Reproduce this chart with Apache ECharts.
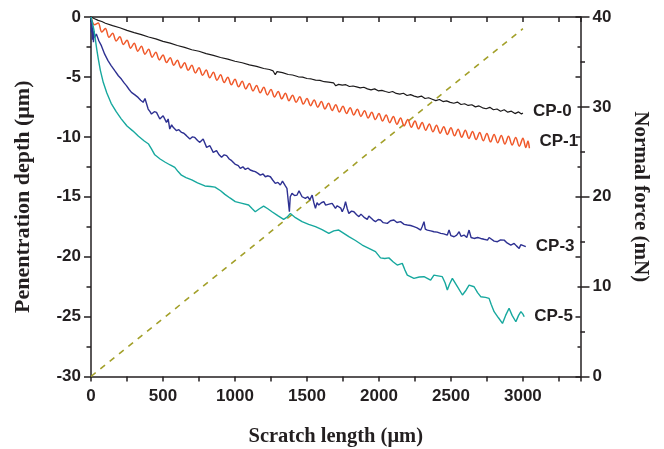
<!DOCTYPE html>
<html>
<head>
<meta charset="utf-8">
<script src="https://cdn.jsdelivr.net/npm/echarts@6/dist/echarts.min.js"></script>
<style>
html,body{margin:0;padding:0;background:#fff;}
#chart{width:664px;height:449px;}
</style>
</head>
<body>
<div id="chart"></div>
<script>
// ---- data (x: scratch length in µm, y: penetration depth in µm) ----
var seriesNames = ['CP-0', 'CP-1', 'CP-3', 'CP-5'];
var xTickLabels = [0, 500, 1000, 1500, 2000, 2500, 3000];

var cp0 = [
[0,0],[25,-0.15],[50,-0.28],[75,-0.38],[100,-0.52],[150,-0.72],[200,-0.9],[250,-1.12],[300,-1.3],[350,-1.47],
[400,-1.67],[450,-1.82],[500,-2.03],[550,-2.18],[600,-2.38],[650,-2.53],[700,-2.73],[750,-2.86],[800,-3.06],[850,-3.2],
[900,-3.38],[950,-3.51],[1000,-3.69],[1050,-3.82],[1100,-4.0],[1150,-4.12],[1200,-4.3],[1240,-4.38],[1265,-4.5],[1280,-4.82],
[1292,-4.56],[1330,-4.64],[1370,-4.8],[1400,-4.84],[1440,-4.99],[1470,-5.02],[1500,-5.13],[1530,-5.17],[1560,-5.27],[1590,-5.29],
[1620,-5.4],[1650,-5.43],[1685,-5.5],[1700,-5.74],[1720,-5.62],[1745,-5.69],[1770,-5.65],[1795,-5.8],[1820,-5.76],[1845,-5.83],
[1870,-5.92],[1895,-5.86],[1920,-6.0],[1945,-6.08],[1970,-6.0],[1995,-6.16],[2020,-6.12],[2045,-6.22],[2070,-6.3],[2095,-6.22],
[2120,-6.38],[2145,-6.44],[2170,-6.36],[2195,-6.55],[2220,-6.48],[2245,-6.6],[2270,-6.68],[2295,-6.6],[2320,-6.8],[2345,-6.74],
[2370,-6.86],[2395,-6.98],[2420,-6.88],[2445,-7.06],[2470,-7.0],[2495,-7.12],[2520,-7.2],[2545,-7.1],[2570,-7.3],[2595,-7.24],
[2620,-7.38],[2645,-7.32],[2670,-7.5],[2695,-7.42],[2720,-7.58],[2745,-7.66],[2770,-7.54],[2795,-7.74],[2820,-7.68],[2845,-7.86],
[2870,-7.74],[2895,-7.94],[2920,-7.86],[2945,-8.06],[2970,-7.92],[2990,-8.1],[3000,-8.02]
];

var cp1 = [
[0,0],[25,-0.65],[50,-0.5],[75,-1.25],[100,-0.95],[125,-1.7],[150,-1.35],[175,-2.0],[200,-1.65],[225,-2.3],
[250,-1.95],[275,-2.6],[300,-2.2],[325,-2.85],[350,-2.45],[375,-3.1],[400,-2.7],[425,-3.35],[450,-2.95],[475,-3.58],
[500,-3.17],[525,-3.8],[550,-3.4],[575,-4.03],[600,-3.6],[625,-4.25],[650,-3.82],[675,-4.45],[700,-4.03],[725,-4.67],
[750,-4.23],[775,-4.87],[800,-4.43],[825,-5.07],[850,-4.62],[875,-5.27],[900,-4.82],[925,-5.47],[950,-5.02],[975,-5.66],
[1000,-5.2],[1025,-5.83],[1050,-5.37],[1075,-6.0],[1100,-5.54],[1125,-6.17],[1150,-5.71],[1175,-6.33],[1200,-5.87],[1225,-6.5],
[1250,-6.05],[1275,-6.68],[1300,-6.22],[1325,-6.83],[1350,-6.37],[1375,-6.98],[1400,-6.52],[1425,-7.12],[1450,-6.66],[1475,-7.27],
[1500,-6.8],[1525,-7.4],[1550,-6.93],[1575,-7.53],[1600,-7.06],[1625,-7.67],[1650,-7.2],[1675,-7.8],[1700,-7.32],[1725,-7.93],
[1750,-7.45],[1775,-8.05],[1800,-7.57],[1825,-8.18],[1850,-7.7],[1875,-8.3],[1900,-7.82],[1925,-8.43],[1950,-7.95],[1975,-8.56],
[2000,-8.06],[2025,-8.68],[2050,-8.18],[2075,-8.82],[2100,-8.3],[2125,-8.95],[2150,-8.43],[2175,-9.08],[2200,-8.55],[2225,-9.2],
[2250,-8.68],[2275,-9.33],[2300,-8.8],[2325,-9.45],[2350,-8.92],[2375,-9.58],[2400,-9.04],[2425,-9.7],[2450,-9.15],[2475,-9.8],
[2500,-9.25],[2525,-9.92],[2550,-9.36],[2575,-10.03],[2600,-9.45],[2625,-10.13],[2650,-9.55],[2675,-10.23],[2700,-9.64],[2725,-10.33],
[2750,-9.72],[2775,-10.42],[2800,-9.8],[2825,-10.5],[2850,-9.88],[2875,-10.6],[2900,-9.95],[2925,-10.68],[2950,-10.05],[2975,-10.78],
[3000,-10.12],[3020,-10.9],[3035,-10.35],[3045,-10.95]
];

var cp3 = [
[0,0],[4,-1.3],[7,-0.3],[10,-1.9],[13,-0.9],[17,-2.1],[21,-1.2],[25,-1.7],[37,-1.42],[55,-2.0],
[72,-2.39],[95,-3.1],[118,-3.64],[140,-4.05],[165,-4.48],[190,-4.9],[211,-5.18],[230,-5.5],[246,-5.73],[265,-6.05],
[281,-6.29],[305,-6.5],[327,-6.71],[345,-6.95],[362,-7.12],[375,-6.8],[385,-6.85],[397,-7.68],[410,-7.9],[420,-8.1],
[440,-7.9],[455,-7.96],[478,-8.51],[501,-8.24],[524,-8.79],[536,-8.51],[547,-9.35],[560,-9.0],[571,-9.21],[594,-9.49],
[610,-9.4],[629,-9.63],[645,-9.7],[663,-9.9],[687,-10.18],[705,-10.0],[721,-10.05],[740,-10.3],[756,-10.46],[779,-10.18],
[803,-10.88],[826,-10.74],[849,-11.3],[872,-11.16],[890,-11.5],[907,-11.71],[925,-11.5],[942,-11.57],[960,-11.85],[977,-11.99],
[1000,-12.27],[1023,-12.4],[1037,-12.63],[1055,-12.5],[1072,-12.72],[1090,-12.6],[1106,-12.77],[1125,-12.85],[1141,-12.91],[1160,-13.05],
[1176,-13.19],[1195,-13.1],[1211,-13.33],[1230,-13.25],[1246,-13.33],[1262,-13.6],[1280,-13.88],[1298,-13.8],[1315,-14.02],[1330,-13.7],
[1338,-13.61],[1350,-14.1],[1361,-14.3],[1373,-14.44],[1378,-16.25],[1384,-15.0],[1396,-14.72],[1414,-14.9],[1431,-14.86],[1445,-14.5],
[1454,-14.44],[1466,-15.0],[1489,-15.14],[1505,-15.0],[1520,-15.25],[1536,-14.86],[1548,-15.5],[1559,-15.97],[1570,-15.5],[1582,-15.69],
[1600,-15.5],[1617,-15.41],[1630,-15.7],[1640,-15.83],[1660,-15.6],[1675,-15.55],[1698,-15.97],[1710,-15.75],[1721,-15.69],[1735,-15.95],
[1745,-16.25],[1758,-15.9],[1768,-15.41],[1780,-16.0],[1791,-16.39],[1810,-16.2],[1826,-16.25],[1845,-16.5],[1861,-16.66],[1875,-16.45],
[1884,-16.53],[1900,-16.75],[1919,-16.89],[1930,-16.6],[1942,-16.66],[1960,-16.95],[1976,-17.08],[1995,-16.9],[2011,-16.94],[2030,-17.16],
[2058,-17.22],[2080,-17.0],[2104,-16.94],[2125,-17.15],[2150,-17.08],[2175,-17.3],[2197,-17.36],[2220,-17.4],[2243,-17.5],[2265,-17.6],
[2290,-17.78],[2300,-17.5],[2313,-17.08],[2322,-17.7],[2336,-17.78],[2360,-17.85],[2382,-17.92],[2405,-17.95],[2429,-18.06],[2450,-18.1],
[2475,-18.2],[2487,-17.78],[2500,-18.25],[2522,-18.34],[2540,-18.2],[2557,-17.92],[2570,-18.3],[2591,-18.2],[2610,-18.4],[2626,-17.78],
[2640,-18.4],[2661,-18.48],[2685,-18.4],[2707,-18.48],[2730,-18.55],[2754,-18.62],[2765,-18.4],[2777,-18.34],[2800,-18.7],[2823,-18.75],
[2845,-18.6],[2870,-18.62],[2890,-18.85],[2916,-19.03],[2939,-18.9],[2955,-19.1],[2974,-19.31],[2985,-19.0],[2997,-19.03],[3020,-19.17]
];

var cp5 = [
[0,0],[10,-0.5],[20,-1.05],[30,-1.85],[40,-2.7],[50,-3.45],[65,-4.45],[85,-5.45],[110,-6.35],[140,-7.2],
[175,-7.9],[210,-8.5],[250,-9.1],[290,-9.5],[330,-9.95],[370,-10.35],[400,-10.6],[420,-11.0],[443,-11.5],[480,-11.85],
[513,-12.1],[550,-12.35],[582,-12.55],[605,-12.9],[628,-13.2],[660,-13.4],[700,-13.6],[740,-13.85],[791,-14.1],[830,-14.15],
[861,-14.2],[900,-14.5],[930,-14.8],[965,-15.1],[1002,-15.41],[1050,-15.55],[1095,-15.69],[1120,-16.0],[1141,-16.25],[1170,-16.0],
[1199,-15.78],[1228,-16.0],[1257,-16.25],[1300,-16.6],[1338,-16.89],[1362,-16.7],[1385,-16.39],[1420,-16.75],[1466,-17.08],[1512,-17.3],
[1559,-17.5],[1605,-17.75],[1652,-18.06],[1686,-17.85],[1721,-17.78],[1756,-18.05],[1791,-18.33],[1837,-18.65],[1884,-19.03],[1930,-19.3],
[1976,-19.58],[2011,-20.1],[2040,-20.15],[2069,-20.1],[2100,-20.45],[2127,-20.7],[2162,-20.56],[2180,-21.1],[2197,-21.54],[2243,-21.81],
[2280,-21.7],[2313,-21.67],[2359,-21.95],[2382,-21.54],[2410,-21.6],[2440,-21.67],[2460,-22.2],[2475,-22.78],[2490,-22.3],[2510,-21.81],
[2545,-22.5],[2580,-23.2],[2605,-22.8],[2626,-22.37],[2661,-22.51],[2685,-23.0],[2707,-23.34],[2740,-23.4],[2765,-23.48],[2780,-24.0],
[2800,-24.59],[2830,-25.1],[2858,-25.57],[2880,-24.9],[2904,-24.31],[2925,-24.9],[2951,-25.43],[2970,-24.9],[2986,-24.59],[3000,-24.8],
[3009,-25.01]
];

// normal force (mN) ramp, right axis
var normalForce = [[0,0],[3000,38.7]];

var colors = {cp0:'#1c1a1b', cp1:'#f0582a', cp3:'#2e3192', cp5:'#17a89e', force:'#a3a02a', axis:'#231f20'};

var tickFont = {fontSize:17, fontWeight:'bold', fontFamily:'"Liberation Sans", Arial, sans-serif', color:colors.axis};
function titleFont(size){
  return {fontSize:size, fontWeight:'bold', fontFamily:'"Liberation Serif", "Times New Roman", serif', color:colors.axis};
}
var axLine = {show:true, onZero:false, lineStyle:{color:colors.axis, width:1.5}};

function depthSeries(name, data, color, width, smooth, labelOffset){
  return {
    name:name, type:'line', xAxisIndex:0, yAxisIndex:0, data:data,
    showSymbol:false, symbol:'none', smooth:smooth,
    lineStyle:{color:color, width:width},
    itemStyle:{color:color},
    endLabel:{show:true, formatter:'{a}', distance:10, offset:labelOffset, color:colors.axis,
      fontSize:17, fontWeight:'bold', fontFamily:'"Liberation Sans", Arial, sans-serif'},
    z:3
  };
}

var chart = echarts.init(document.getElementById('chart'), null, {renderer:'canvas'});
chart.setOption({
  animation:false,
  backgroundColor:'#fff',
  grid:{left:91, right:83.5, top:17, bottom:72.5, containLabel:false, outerBoundsMode:'none'},
  xAxis:[
    {type:'value', position:'bottom', min:0, max:3400, interval:250,
     axisLine:axLine,
     axisTick:{show:true, inside:false, length:5, lineStyle:{color:colors.axis, width:1.5}},
     axisLabel:Object.assign({margin:11, formatter:function(v){return xTickLabels.indexOf(v) >= 0 ? String(v) : '';}}, tickFont),
     splitLine:{show:false},
     name:'Scratch length (\u03bcm)', nameLocation:'middle', nameGap:50, nameTextStyle:titleFont(20.5)},
    {type:'value', position:'top', min:0, max:3400, interval:250,
     axisLine:axLine,
     axisTick:{show:true, inside:true, length:5, lineStyle:{color:colors.axis, width:1.5}},
     axisLabel:{show:false}, splitLine:{show:false}}
  ],
  yAxis:[
    {type:'value', position:'left', min:-30, max:0, interval:5,
     axisLine:axLine,
     axisTick:{show:true, inside:false, length:7, lineStyle:{color:colors.axis, width:1.5}},
     minorTick:{show:true, splitNumber:2, length:4.5, lineStyle:{color:colors.axis, width:1.5}},
     axisLabel:Object.assign({margin:10}, tickFont),
     splitLine:{show:false}, minorSplitLine:{show:false},
     name:'Penentration depth (\u03bcm)', nameLocation:'middle', nameRotate:90, nameGap:57, nameTextStyle:titleFont(22)},
    {type:'value', position:'right', min:0, max:40, interval:10,
     axisLine:axLine,
     axisTick:{show:true, inside:false, length:9, lineStyle:{color:colors.axis, width:1.5}},
     minorTick:{show:true, splitNumber:2, length:4.5, lineStyle:{color:colors.axis, width:1.5}},
     axisLabel:Object.assign({margin:12}, tickFont),
     splitLine:{show:false}, minorSplitLine:{show:false},
     name:'Normal force (mN)', nameLocation:'middle', nameRotate:-90, nameGap:49, nameTextStyle:titleFont(21)},
    {type:'value', position:'right', min:-30, max:0, interval:5,
     axisLine:{show:false, onZero:false},
     axisTick:{show:true, inside:true, length:5, lineStyle:{color:colors.axis, width:1.5}},
     minorTick:{show:true, splitNumber:2, length:3, lineStyle:{color:colors.axis, width:1.5}},
     axisLabel:{show:false}, splitLine:{show:false}, minorSplitLine:{show:false}}
  ],
  series:[
    {name:'Normal force', type:'line', xAxisIndex:0, yAxisIndex:1, data:normalForce,
     showSymbol:false, symbol:'none',
     lineStyle:{color:colors.force, width:1.6, type:[6,6]}, z:2},
    depthSeries(seriesNames[0], cp0, colors.cp0, 1.2, false, [0,-2]),
    depthSeries(seriesNames[1], cp1, colors.cp1, 1.5, 0.35, [0,-7]),
    depthSeries(seriesNames[2], cp3, colors.cp3, 1.4, false, [0,0]),
    depthSeries(seriesNames[3], cp5, colors.cp5, 1.4, false, [0,0])
  ]
});
</script>
</body>
</html>
